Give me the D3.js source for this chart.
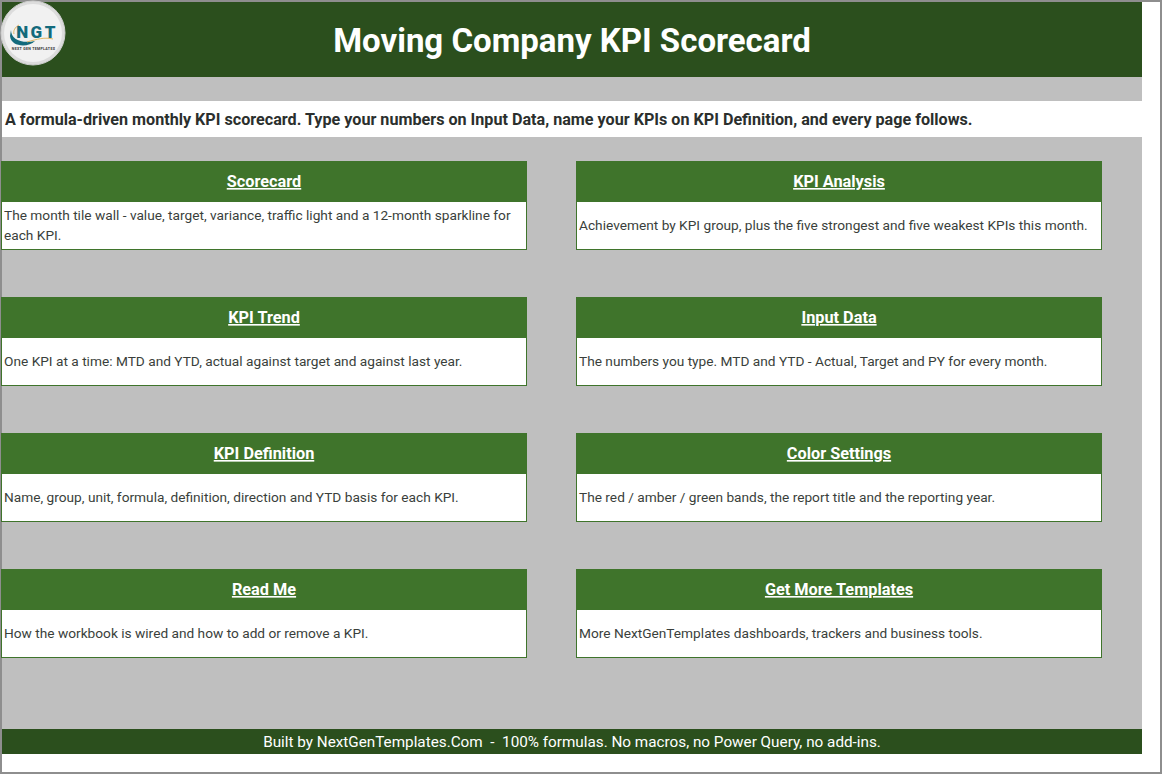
<!DOCTYPE html>
<html>
<head>
<meta charset="utf-8">
<script src="https://cdn.jsdelivr.net/npm/d3@7"></script>
<style>
  html, body { margin: 0; padding: 0; background: #fff; overflow: hidden; }
  svg { display: block; font-family: Roboto, sans-serif; }
</style>
</head>
<body>
<svg width="1162" height="774"></svg>
<script>
    const chartTitle = "Moving Company KPI Scorecard";
    const subtitle = "A formula-driven monthly KPI scorecard. Type your numbers on Input Data, name your KPIs on KPI Definition, and every page follows.";
    const footer = "Built by NextGenTemplates.Com  -  100% formulas. No macros, no Power Query, no add-ins.";

    const cardTitles = ["Scorecard", "KPI Analysis", "KPI Trend", "Input Data", "KPI Definition", "Color Settings", "Read Me", "Get More Templates"];
    const cardTexts = [
      ["The month tile wall - value, target, variance, traffic light and a 12-month sparkline for", "each KPI."],
      ["Achievement by KPI group, plus the five strongest and five weakest KPIs this month."],
      ["One KPI at a time: MTD and YTD, actual against target and against last year."],
      ["The numbers you type. MTD and YTD - Actual, Target and PY for every month."],
      ["Name, group, unit, formula, definition, direction and YTD basis for each KPI."],
      ["The red / amber / green bands, the report title and the reporting year."],
      ["How the workbook is wired and how to add or remove a KPI."],
      ["More NextGenTemplates dashboards, trackers and business tools."]
    ];

    const svg = d3.select("svg");
    const width = +svg.attr("width");
    const height = +svg.attr("height");

    const darkGreen = "#2b4f1d";
    const cardGreen = "#3f742b";
    const grey = "#bfbfbf";
    const ink = "#3a3f3b";

    const cards = cardTitles.map((title, i) => ({
      title, lines: cardTexts[i], col: i % 2, row: Math.floor(i / 2)
    }));

    // grid of cards
    const x = d3.scaleLinear().domain([0, 1]).range([1.5, 576.5]);
    const y = d3.scaleLinear().domain([0, 3]).range([161.5, 569.5]);
    const cardW = 525;
    const cardH = 88;
    const headH = 41;

    // page background
    svg.append("rect").attr("width", width).attr("height", height).attr("fill", "#fff");
    svg.append("rect").attr("x", 1).attr("y", 1).attr("width", width - 2).attr("height", height - 2)
      .attr("fill", "none").attr("stroke", "#8e8e8e").attr("stroke-width", 2);
    svg.append("rect").attr("x", 2).attr("y", 2).attr("width", 1140).attr("height", 727).attr("fill", grey);

    // title band
    svg.append("rect").attr("x", 2).attr("y", 2).attr("width", 1140).attr("height", 75).attr("fill", darkGreen);
    svg.append("text")
      .attr("x", 572).attr("y", 52)
      .attr("text-anchor", "middle")
      .attr("fill", "#fff")
      .style("font-size", "33px")
      .style("font-weight", "700")
      .text(chartTitle);

    // subtitle band
    svg.append("rect").attr("x", 2).attr("y", 101).attr("width", 1158).attr("height", 36).attr("fill", "#fff");
    svg.append("text")
      .attr("x", 5).attr("y", 125)
      .attr("fill", "#2b2f2d")
      .style("font-size", "16.15px")
      .style("font-weight", "700")
      .text(subtitle);

    // cards
    const card = svg.selectAll(".card")
      .data(cards)
      .enter()
      .append("g")
      .attr("class", "card")
      .attr("transform", d => `translate(${x(d.col)},${y(d.row)})`);

    card.append("rect")
      .attr("width", cardW)
      .attr("height", cardH)
      .attr("fill", "#fff")
      .attr("stroke", cardGreen)
      .attr("stroke-width", 1);

    card.append("rect")
      .attr("x", -0.5).attr("y", -0.5)
      .attr("width", cardW + 1)
      .attr("height", headH)
      .attr("fill", cardGreen);

    card.append("text")
      .attr("x", cardW / 2)
      .attr("y", 25.5)
      .attr("text-anchor", "middle")
      .attr("fill", "#fff")
      .style("font-size", "16.3px")
      .style("font-weight", "700")
      .style("text-decoration", "underline")
      .text(d => d.title);

    card.each(function(d) {
      const top = d.lines.length > 1 ? 58.5 : 68;
      d3.select(this).selectAll(".line")
        .data(d.lines)
        .enter()
        .append("text")
        .attr("class", "line")
        .attr("x", 2.5)
        .attr("y", (l, i) => top + i * 20)
        .attr("fill", ink)
        .style("font-size", "13.7px")
        .text(l => l);
    });

    // footer band
    svg.append("rect").attr("x", 2).attr("y", 729).attr("width", 1140).attr("height", 25).attr("fill", darkGreen);
    svg.append("text")
      .attr("x", 572).attr("y", 747)
      .attr("text-anchor", "middle")
      .attr("fill", "#fff")
      .style("font-size", "15.27px")
      .style("white-space", "pre")
      .text(footer);

    // logo
    const logo = svg.append("g").attr("transform", "translate(33,33)");
    logo.append("circle").attr("r", 32).attr("fill", "#dcdcdc").attr("stroke", "#cfcfcf");
    logo.append("circle").attr("r", 29).attr("fill", "#f1f1f1");
    logo.append("path")
      .attr("d", "M-22,-3 C-22,6 -12,11 2,8 C-5,15 -22,14 -23,3 Z")
      .attr("fill", "#136a7c");
    logo.append("path")
      .attr("d", "M-14,-8 C-18,-6 -20,-2 -19,1")
      .attr("fill", "none").attr("stroke", "#e0b765").attr("stroke-width", 1);
    logo.append("path")
      .attr("d", "M-6,9 C4,6 12,4 20,6")
      .attr("fill", "none").attr("stroke", "#e0b765").attr("stroke-width", 1);
    logo.append("text")
      .attr("x", 4).attr("y", 4.5)
      .attr("text-anchor", "middle")
      .attr("fill", "#136a7c")
      .style("font-size", "17px")
      .style("font-weight", "900")
      .style("letter-spacing", "2.5px")
      .text("NGT");
    logo.append("text")
      .attr("x", 0.5).attr("y", 16.5)
      .attr("text-anchor", "middle")
      .attr("fill", "#333")
      .style("font-size", "3.6px")
      .style("font-weight", "700")
      .style("letter-spacing", "0.3px")
      .text("NEXT GEN TEMPLATES");
</script>
</body>
</html>
